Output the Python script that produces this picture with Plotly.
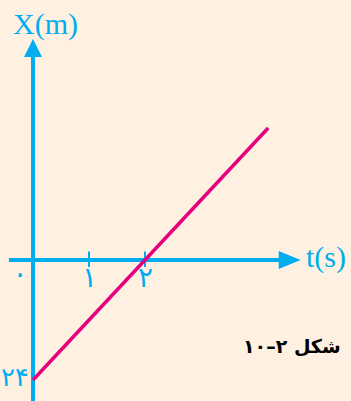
import plotly.graph_objects as go

# data
t_line = [0, 2, 4.2]
x_line = [-24, 0, 26.4]
tick_t = [1, 2]
tick_labels = ["۱", "۲"]
origin_label = "۰"
intercept_label = "۲۴"
intercept_value = -24
caption = "۱۰–۲ شکل"

BLUE = "#00AEEF"
MAGENTA = "#E6007E"
BG = "#FEF1E1"

fig = go.Figure()

# the x(t) line
fig.add_trace(go.Scatter(x=t_line, y=x_line, mode="lines",
                         line=dict(color=MAGENTA, width=3.5),
                         hoverinfo="skip", showlegend=False))

shapes = []
# vertical axis
shapes.append(dict(type="line", x0=0, x1=0, y0=-30, y1=42,
                   line=dict(color=BLUE, width=4), layer="below"))
# horizontal axis
shapes.append(dict(type="line", x0=-0.43, x1=4.5, y0=0, y1=0,
                   line=dict(color=BLUE, width=4), layer="below"))
# arrowheads (pixel sized, anchored at the tip)
shapes.append(dict(type="path", xsizemode="pixel", ysizemode="pixel",
                   xanchor=0, yanchor=44.2, path="M -9,-18 L 9,-18 L 0,0 Z",
                   fillcolor=BLUE, line=dict(width=0), layer="below"))
shapes.append(dict(type="path", xsizemode="pixel", ysizemode="pixel",
                   xanchor=4.78, yanchor=0, path="M -22,-9 L -22,9 L 0,0 Z",
                   fillcolor=BLUE, line=dict(width=0), layer="below"))
# tick marks
for tv in tick_t:
    shapes.append(dict(type="line", x0=tv, x1=tv, y0=-1.4, y1=1.7,
                       line=dict(color=BLUE, width=2), layer="below"))

annotations = [
    dict(x=0.232, y=47.2, text="X(m)", showarrow=False,
         font=dict(family="Liberation Serif", size=30, color=BLUE)),
    dict(x=5.232, y=0.6, text="t(s)", showarrow=False,
         font=dict(family="Liberation Serif", size=30, color=BLUE)),
    dict(x=-0.232, y=-2.6, text=origin_label, showarrow=False,
         font=dict(family="DejaVu Sans", size=30, color=BLUE)),
    dict(x=-0.33, y=intercept_value + 0.6, text=intercept_label, showarrow=False,
         font=dict(family="DejaVu Sans", size=26, color=BLUE)),
    dict(x=4.625, y=-17.2, text="<b>" + caption + "</b>", showarrow=False,
         font=dict(family="DejaVu Sans", size=19, color="black")),
]
for tv, lab in zip(tick_t, tick_labels):
    annotations.append(dict(x=tv, y=-3.4, text=lab, showarrow=False,
                            font=dict(family="DejaVu Sans", size=28, color=BLUE)))

fig.update_layout(
    width=351, height=401,
    margin=dict(l=0, r=0, t=0, b=0),
    paper_bgcolor=BG, plot_bgcolor=BG,
    xaxis=dict(range=[-33 / 56, 318 / 56], visible=False, fixedrange=True),
    yaxis=dict(range=[-28.2, 52], visible=False, fixedrange=True),
    shapes=shapes, annotations=annotations,
)

fig.write_html("out.html", config={"displayModeBar": False},
               post_script="document.body.style.margin='0';")
